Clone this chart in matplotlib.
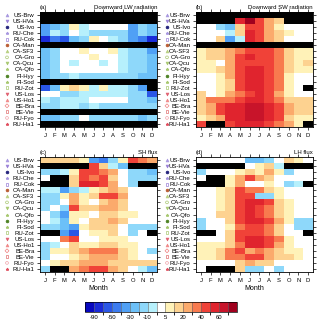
import numpy as np
import matplotlib
matplotlib.use("Agg")
import matplotlib.pyplot as plt
from matplotlib.colors import ListedColormap, BoundaryNorm
from matplotlib.transforms import blended_transform_factory
import matplotlib.colorbar as mcolorbar

plt.rcParams['font.family'] = ['Liberation Sans', 'DejaVu Sans']

N = np.nan
months = ['J', 'F', 'M', 'A', 'M', 'J', 'J', 'A', 'S', 'O', 'N', 'D']
sites = ['US-Brw', 'US-HVa', 'US-Ivo', 'RU-Che', 'RU-Cok', 'CA-Man', 'CA-SF3',
         'CA-Gro', 'CA-Qcu', 'CA-Qfo', 'FI-Hyy', 'FI-Sod', 'RU-Zot', 'US-Los',
         'US-Ho1', 'BE-Bra', 'BE-Vie', 'RU-Fyo', 'RU-Ha1']
site_markers = ['^', 'v', 'o', '*', 's', 'o', '^', 'o', 'v', '*', 'o', '*', 's',
                'v', '^', 'D', 's', 'o', '*']
site_colors = ['#a898e0', '#9a80d8', '#20207a', '#a898e0', '#9a80d8', '#b85a30',
               '#b8d080', '#a8c870', '#a8c870', '#a8c870', '#4a8020', '#a8c870',
               '#a8c870', '#e06070', '#f08888', '#f08080', '#e07070', '#f0a0a8',
               '#e05060']
site_filled = [True, True, True, True, False, True, True, False, True, True,
               True, True, False, True, True, False, False, False, True]

levels = [-90, -70, -50, -40, -30, -20, -10, -5, 5, 10, 20, 30, 40, 50, 60, 70]
level_labels = ['-90', '-50', '-30', '-10', '5', '20', '40', '60']
colors = ['#0808c0', '#1a2ad8', '#2a56e6', '#3c7cf0', '#50a0f5', '#6cc0f8',
          '#8ed8fa', '#b6f0fc', '#ffffff', '#fff2b8', '#fdd290', '#fbaa6c',
          '#f87a4e', '#f04238', '#e0242e', '#c8142a', '#a0001e']

lw_down = [
    [N] * 12,
    [N] * 12,
    [-35, -25, -15, 7, -7, 0, 0, 0, 0, -35, -15, -25],
    [-35, -7, -15, 0, -7, -15, -15, -15, -15, -35, -15, -25],
    [-80, -45, -60, -25, -15, 7, 0, -7, -15, -35, -45, -80],
    [N] * 12,
    [-25, -15, 0, 0, 7, 0, 0, 7, -7, -15, -15, -35],
    [-25, -15, 0, 0, 0, 7, 0, 0, -7, -15, -15, -25],
    [-25, -15, 0, -7, 0, 0, -7, 0, -7, -15, -15, -25],
    [-25, -15, 0, 0, 0, 0, 0, 0, -7, -15, -15, -25],
    [-25, -15, -15, -7, -15, -15, -15, -15, -15, -15, -25, -25],
    [N] * 12,
    [-60, -25, 7, 15, 7, -7, 7, -7, -7, -15, -35, N],
    [0, 0, -15, -15, -7, -7, -7, -7, -7, -15, -15, -60],
    [-7, -15, -7, -7, -7, 0, 0, 0, 0, -15, -15, -25],
    [-15, -15, -7, -7, -15, -7, -15, -15, -15, -15, -15, -15],
    [N] * 12,
    [-25, -25, -15, -15, 0, -15, -15, -15, -15, -15, -25, -15],
    [N] * 12,
]

sw_down = [
    [N] * 12,
    [N, N, N, N, 55, 75, 45, 25, 15, N, N, N],
    [0, 0, -15, -25, 15, 45, 45, 25, 7, 0, 0, 0],
    [0, 0, 0, -7, 15, 50, 45, 20, 15, 7, 0, 0],
    [0, 0, 15, -35, -7, 50, 45, 25, 15, 0, 0, 0],
    [N] * 12,
    [7, 15, 15, 25, 35, 45, 45, 45, 35, 15, 7, 7],
    [7, 15, 15, 25, 45, 55, 45, 45, 35, 15, 7, 7],
    [7, 7, 0, 25, 45, 45, 45, 45, 35, 15, 7, 15],
    [7, 7, 15, 25, 45, 55, 55, 45, 35, 15, 7, 7],
    [0, 0, 7, 25, 45, 55, 55, 45, 35, 7, 0, 0],
    [0, 0, 7, 15, 45, 55, 55, 45, 35, 7, 0, 0],
    [0, 0, 7, 15, 45, 55, 55, 45, 35, 7, 0, N],
    [15, 0, 7, 25, 35, 45, 55, 45, 25, 7, 0, 0],
    [15, 35, 35, 35, 45, 55, 55, 45, 35, 15, 15, 15],
    [15, 25, 45, 55, 55, 65, 65, 55, 45, 25, 15, 15],
    [15, 25, 45, 55, 55, 65, 65, 55, 45, 25, 15, 15],
    [7, 15, 25, 55, 55, 65, 65, 55, 45, 15, 7, 7],
    [45, N, N, 45, 55, 55, 55, 45, 35, 25, 7, N],
]

sh_flux = [
    [15, 15, 15, 15, 7, -35, -45, -15, 7, 45, 35, 25],
    [N, N, N, N, N, 45, 15, -7, -25, N, N, N],
    [-15, -15, -7, 7, 45, 45, 35, 25, 0, -15, -15, -25],
    [0, N, N, 15, 45, 35, 45, 15, 0, -15, -15, -15],
    [N, N, N, 15, 55, 55, 45, 25, 0, -15, N, N],
    [-7, -7, -35, -15, -7, 7, 15, 25, 15, 0, 0, 0],
    [-15, -15, 7, 25, 7, 15, 45, 45, 25, 0, 0, 0],
    [-15, -15, 0, 25, 7, 0, 15, 25, 15, 0, 0, 0],
    [-15, 0, -15, 45, 15, 15, 25, 25, 15, 0, 0, 0],
    [0, -15, -35, 7, 7, 0, 15, 15, 7, 7, 0, 0],
    [0, -7, -25, 7, 0, 15, 15, 25, 15, 0, 0, 0],
    [-15, -15, -25, -35, 7, 15, 15, 15, 0, -15, -15, -15],
    [N, N, -35, -60, 0, 7, 7, 15, 0, -15, 0, N],
    [0, 0, 35, 45, 0, 0, 7, 7, 7, 0, 0, 0],
    [-15, -7, 0, 15, 7, 7, 15, 15, 7, 7, 0, 0],
    [-15, 7, 7, 15, 25, 35, 35, 35, 15, 7, 0, -15],
    [-15, 0, 0, 7, 15, 25, 25, 25, 15, 7, 0, 0],
    [0, 7, 15, 15, 25, 25, 25, 15, 15, 15, 15, 15],
    [-15, N, N, 25, 35, 45, 45, 25, 15, 0, -7, -25],
]

lh_flux = [
    [0, 0, 0, 0, 0, -25, -25, -15, 0, 15, 7, 0],
    [N, N, N, N, N, 0, 7, 15, -7, N, N, N],
    [-15, 0, 0, 0, 7, 15, 7, 25, 7, -15, 0, 0],
    [0, N, N, 7, 25, 45, 25, 15, 0, 0, 0, 0],
    [N, N, N, 7, 25, 0, 0, 7, 0, -15, -7, N],
    [0, 0, 7, 15, 45, 35, 35, 15, 7, 0, 0, 0],
    [0, 0, 7, 15, 45, 45, -15, -15, 7, 0, 0, 0],
    [0, 0, 7, 15, 45, 55, 55, 45, 15, 7, 0, 0],
    [0, 0, 7, 15, 45, 55, 45, 35, 15, 7, 0, 0],
    [0, 0, 15, 15, 45, 55, 45, 35, 15, 7, 0, 0],
    [-15, 0, 0, 15, 45, 55, 55, 45, 25, 7, -15, -15],
    [-15, 0, 0, 7, 35, 45, 45, 35, 15, 0, -15, -15],
    [N, N, 0, 15, 45, 45, 45, 35, 15, 0, 0, N],
    [0, 0, 0, 15, 45, 55, 55, 45, 35, 7, 0, 0],
    [7, 7, 7, 15, 35, 55, 55, 45, 25, 7, 0, 0],
    [7, 7, 15, 35, 45, 25, 35, 25, 15, 7, 7, 0],
    [7, 7, 15, 35, 35, 45, 45, 25, 15, 15, 7, 0],
    [0, 0, 0, 0, 15, 25, 15, 15, 0, 0, 0, 0],
    [0, N, N, N, 15, -15, -15, 0, -15, 0, 0, 0],
]

panels = [
    ('(a)', 'Downward LW radiation', lw_down),
    ('(b)', 'Downward SW radiation', sw_down),
    ('(c)', 'SH flux', sh_flux),
    ('(d)', 'LH flux', lh_flux),
]

cmap = ListedColormap(colors[1:-1])
cmap.set_under(colors[0])
cmap.set_over(colors[-1])
cmap.set_bad('black')
norm = BoundaryNorm(levels, cmap.N)

fig = plt.figure(figsize=(3.2, 3.21), dpi=100)
W, H = 320.0, 321.0
boxes = [(40, 12), (196, 12), (40, 157), (196, 157)]
pw, ph = 117, 115

for i, (tag, title, data) in enumerate(panels):
    x0, y0 = boxes[i]
    ax = fig.add_axes([x0 / W, 1 - (y0 + ph) / H, pw / W, ph / H])
    arr = np.ma.masked_invalid(np.array(data, dtype=float))
    ax.pcolormesh(np.arange(13), np.arange(20), arr, cmap=cmap, norm=norm,
                  edgecolors='none')
    ax.set_xlim(0, 12)
    ax.set_ylim(19, 0)
    ax.set_xticks(np.arange(12) + 0.5)
    ax.set_xticklabels(months, fontsize=4.2)
    ax.set_yticks(np.arange(19) + 0.5)
    ax.set_yticklabels(sites, fontsize=4.3)
    ax.tick_params(direction='out', length=2.5, width=0.5, pad=1.5,
                   top=True, right=True)
    for sp in ax.spines.values():
        sp.set_linewidth(0.6)
    ax.set_title(tag, loc='left', fontsize=4.2, pad=2.5)
    ax.set_title(title, loc='right', fontsize=4.3, pad=2.5)
    if i >= 2:
        ax.set_xlabel('Month', fontsize=5, labelpad=2)

    mx = (7 if i % 2 == 0 else 167)
    mx_ax = (mx - x0) / pw
    trans = blended_transform_factory(ax.transAxes, ax.transData)
    for j in range(len(sites)):
        fc = site_colors[j] if site_filled[j] else 'none'
        ax.scatter([mx_ax], [j + 0.5], marker=site_markers[j], s=4,
                   facecolors=fc, edgecolors=site_colors[j], linewidths=0.5,
                   transform=trans, clip_on=False)

cax = fig.add_axes([85 / W, 1 - 312 / H, 152 / W, 10 / H])
cb = mcolorbar.ColorbarBase(cax, cmap=cmap, norm=norm, orientation='horizontal',
                            extend='both', extendrect=True, extendfrac='auto',
                            spacing='uniform', drawedges=True)
cb.outline.set_linewidth(0.5)
cb.dividers.set_linewidth(0.4)
cb.dividers.set_color('#666666')
cb.set_ticks([float(v) for v in level_labels])
cb.set_ticklabels(level_labels)
cax.tick_params(length=0, labelsize=4.3, pad=2)

fig.savefig('out.png', dpi=100)
